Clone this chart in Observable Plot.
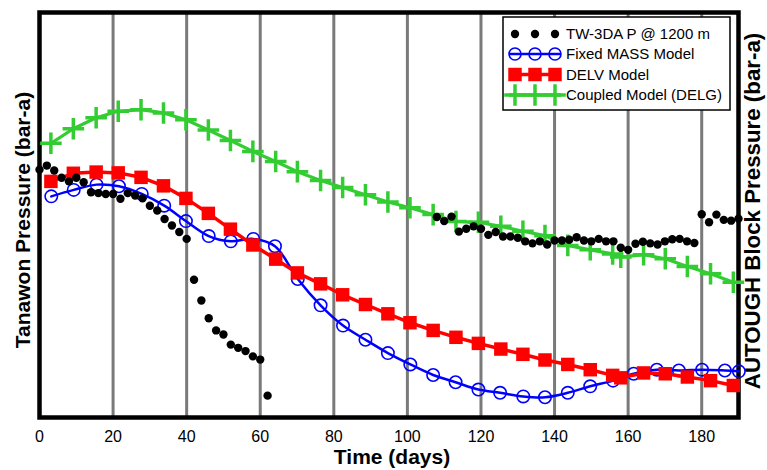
<!DOCTYPE html>
<html>
<head>
<meta charset="utf-8">
<script src="https://cdn.jsdelivr.net/npm/d3@7"></script>
<script src="https://cdn.jsdelivr.net/npm/@observablehq/plot@0.6"></script>
<style>
  html, body { margin: 0; padding: 0; background: #fff; }
  #chart svg { display: block; }
</style>
</head>
<body>
<div id="chart"></div>
<script>
// ---------- data (y in relative pressure units 0-100) ----------
const seriesNames = ["TW-3DA P @ 1200 m", "Fixed MASS Model", "DELV Model", "Coupled Model (DELG)"];
const xTicks = [0, 20, 40, 60, 80, 100, 120, 140, 160, 180];
const gridDays = [20, 40, 60, 80, 100, 120, 140, 160, 180];
const xLabel = "Time (days)";
const yLabelLeft = "Tanawon Pressure (bar-a)";
const yLabelRight = "AUTOUGH Block Pressure (bar-a)";

// observed well pressure (two records)
const obsDays1 = [0, 2, 4, 6, 8, 10, 12, 14, 16, 18, 20, 22, 24, 26, 28, 30, 32, 34, 36, 38, 40, 42, 44, 46, 48, 50, 52, 54, 56, 58, 60, 62];
const obsVals1 = [61.2, 62.2, 61.0, 59.2, 58.3, 59.2, 58.1, 55.6, 55.4, 55.2, 55.2, 54.0, 55.4, 54.8, 54.1, 52.3, 51.1, 49.0, 47.4, 45.8, 44.1, 34.0, 28.9, 24.5, 21.5, 20.5, 18.0, 17.2, 16.4, 15.1, 14.3, 5.4];
const obsDays2 = [108, 110, 112, 114, 116, 118, 120, 122, 124, 126, 128, 130, 132, 134, 136, 138, 140, 142, 144, 146, 148, 150, 152, 154, 156, 158, 160, 162, 164, 166, 168, 170, 172, 174, 176, 178, 180, 182, 184, 186, 188, 190];
const obsVals2 = [49.5, 48.5, 49.6, 45.9, 46.6, 47.2, 46.6, 45.1, 45.8, 44.7, 44.7, 44.4, 43.5, 43.0, 43.5, 42.7, 43.7, 43.7, 43.9, 44.5, 43.7, 43.5, 44.1, 43.5, 43.5, 41.9, 41.4, 42.9, 43.4, 43.0, 42.7, 43.5, 44.0, 44.1, 43.5, 43.1, 50.2, 48.2, 50.1, 48.8, 48.6, 49.1];

// Fixed MASS model
const massDays = [3.2, 9.3, 15.5, 21.6, 27.8, 33.9, 39.8, 46.0, 52.0, 58.1, 64.0, 70.2, 76.4, 82.5, 88.6, 94.7, 100.8, 107.0, 113.1, 119.3, 125.2, 131.5, 137.4, 143.6, 149.7, 155.9, 161.5, 167.8, 173.8, 180.1, 186.3, 190.1];
const massVals = [54.6, 56.2, 57.5, 57.1, 55.2, 52.3, 48.5, 44.8, 43.5, 44.1, 42.3, 34.2, 27.7, 22.7, 19.2, 15.9, 13.1, 10.5, 8.7, 6.9, 6.1, 5.2, 5.0, 6.1, 7.7, 9.1, 10.8, 11.8, 11.6, 11.8, 11.6, 11.4];

// DELV and DELG models share output times
const modelDays = [3.1, 9.2, 15.4, 21.4, 27.6, 33.7, 39.8, 45.9, 51.9, 58.0, 64.2, 70.1, 76.4, 82.4, 88.6, 94.7, 100.7, 107.0, 113.2, 119.3, 125.4, 131.4, 137.4, 143.6, 149.7, 155.8, 158.0, 164.2, 170.1, 176.1, 182.4, 188.6];
const delvVals = [58.3, 60.3, 60.6, 60.4, 59.3, 57.2, 54.1, 50.4, 46.5, 42.6, 39.1, 35.7, 33.0, 30.3, 27.9, 25.6, 23.4, 21.5, 19.8, 18.3, 16.9, 15.6, 14.2, 13.1, 11.8, 10.4, 9.8, 11.0, 10.8, 10.0, 9.1, 7.9];
const delgVals = [67.7, 71.3, 74.0, 75.6, 76.0, 75.2, 73.5, 71.0, 68.4, 65.7, 63.2, 60.7, 58.5, 56.8, 55.0, 53.2, 51.8, 50.1, 48.4, 48.2, 47.2, 46.0, 44.9, 42.5, 41.4, 40.4, 39.6, 40.2, 39.2, 37.3, 35.5, 33.4];

// ---------- tables ----------
const zip = (xs, ys) => xs.map((d, i) => ({day: d, value: ys[i]}));
const obs = [...zip(obsDays1, obsVals1), ...zip(obsDays2, obsVals2)];
const mass = zip(massDays, massVals);
const delv = zip(modelDays, delvVals);
const delg = zip(modelDays, delgVals);

const colors = {obs: "#000000", mass: "#0000ff", delv: "#ff0000", delg: "#33cc33"};
const FONT = "'Liberation Sans', Arial, Helvetica, sans-serif";
const plusR = 7;

const chart = Plot.plot({
  width: 767,
  height: 470,
  marginLeft: 39,
  marginRight: 29,
  marginTop: 12,
  marginBottom: 53,
  x: {domain: [0, 190]},
  y: {domain: [0, 100], axis: null},
  style: {fontFamily: FONT, background: "white", color: "black", overflow: "visible"},
  marks: [
    Plot.ruleX(gridDays, {stroke: "#7a7a7a", strokeWidth: 3}),
    Plot.frame({stroke: "black", strokeWidth: 4.5}),
    Plot.axisX(xTicks, {tickSize: 0, tickPadding: 13, fontSize: 16, label: null}),
    Plot.text([xLabel], {text: d => d, frameAnchor: "bottom", textAnchor: "middle", lineAnchor: "middle", dy: 40, dx: 3, fontSize: 21, fontWeight: "bold"}),
    Plot.text([yLabelLeft], {text: d => d, frameAnchor: "left", textAnchor: "middle", lineAnchor: "middle", rotate: -90, dx: -16.5, dy: 5, fontSize: 21, fontWeight: "bold"}),
    Plot.text([yLabelRight], {text: d => d, frameAnchor: "right", textAnchor: "middle", lineAnchor: "middle", rotate: -90, dx: 14.5, dy: -4, fontSize: 22.3, fontWeight: "bold"}),
    // Fixed MASS
    Plot.line(mass, {x: "day", y: "value", stroke: colors.mass, strokeWidth: 2.5, curve: "catmull-rom"}),
    Plot.dot(mass, {x: "day", y: "value", r: 6.2, stroke: colors.mass, strokeWidth: 1.6, fill: "none"}),
    // DELV
    Plot.line(delv, {x: "day", y: "value", stroke: colors.delv, strokeWidth: 3.5}),
    Plot.dot(delv, {x: "day", y: "value", symbol: "square", r: 7.6, fill: colors.delv, stroke: "none"}),
    // DELG
    Plot.line(delg, {x: "day", y: "value", stroke: colors.delg, strokeWidth: 3.2}),
    Plot.dot(delg, {x: "day", y: "value", symbol: "plus", r: plusR, stroke: colors.delg, strokeWidth: 3.5}),
    // observed
    Plot.dot(obs, {x: "day", y: "value", r: 4.2, fill: colors.obs, stroke: "none"})
  ]
});

document.getElementById("chart").appendChild(chart);

// ---------- legend (drawn inside the plot's svg) ----------
const svg = d3.select(chart);
const lg = svg.append("g").attr("font-family", FONT).attr("font-size", 15).attr("text-anchor", "start");
lg.append("rect")
  .attr("x", 503).attr("y", 17).attr("width", 227).attr("height", 93)
  .attr("fill", "white").attr("stroke", "black").attr("stroke-width", 1.5);
const rowY = [34, 54, 74.5, 95];
const symX = [515, 535, 555];
const kinds = ["obs", "mass", "delv", "delg"];
kinds.forEach((k, i) => {
  const y = rowY[i];
  const row = lg.append("g");
  if (k !== "obs") {
    row.append("line").attr("x1", 509).attr("x2", 561).attr("y1", y).attr("y2", y)
      .attr("stroke", colors[k]).attr("stroke-width", k === "mass" ? 2.5 : 3.5);
  }
  symX.forEach(x => {
    if (k === "obs") {
      row.append("circle").attr("cx", x).attr("cy", y).attr("r", 4.2).attr("fill", colors.obs);
    } else if (k === "mass") {
      row.append("circle").attr("cx", x).attr("cy", y).attr("r", 6).attr("fill", "none")
        .attr("stroke", colors.mass).attr("stroke-width", 1.6);
    } else if (k === "delv") {
      row.append("path").attr("transform", `translate(${x},${y})`)
        .attr("d", d3.symbol(d3.symbolSquare, Math.PI * 7.6 * 7.6)()).attr("fill", colors.delv);
    } else {
      row.append("path").attr("transform", `translate(${x},${y})`)
        .attr("d", d3.symbol(d3.symbolPlus, Math.PI * plusR * plusR)()).attr("fill", "none")
        .attr("stroke", colors.delg).attr("stroke-width", 3.5);
    }
  });
  row.append("text").attr("x", 566).attr("y", y).attr("dy", "0.35em").attr("fill", "black")
    .attr("text-anchor", "start").text(seriesNames[i]);
});
</script>
</body>
</html>
